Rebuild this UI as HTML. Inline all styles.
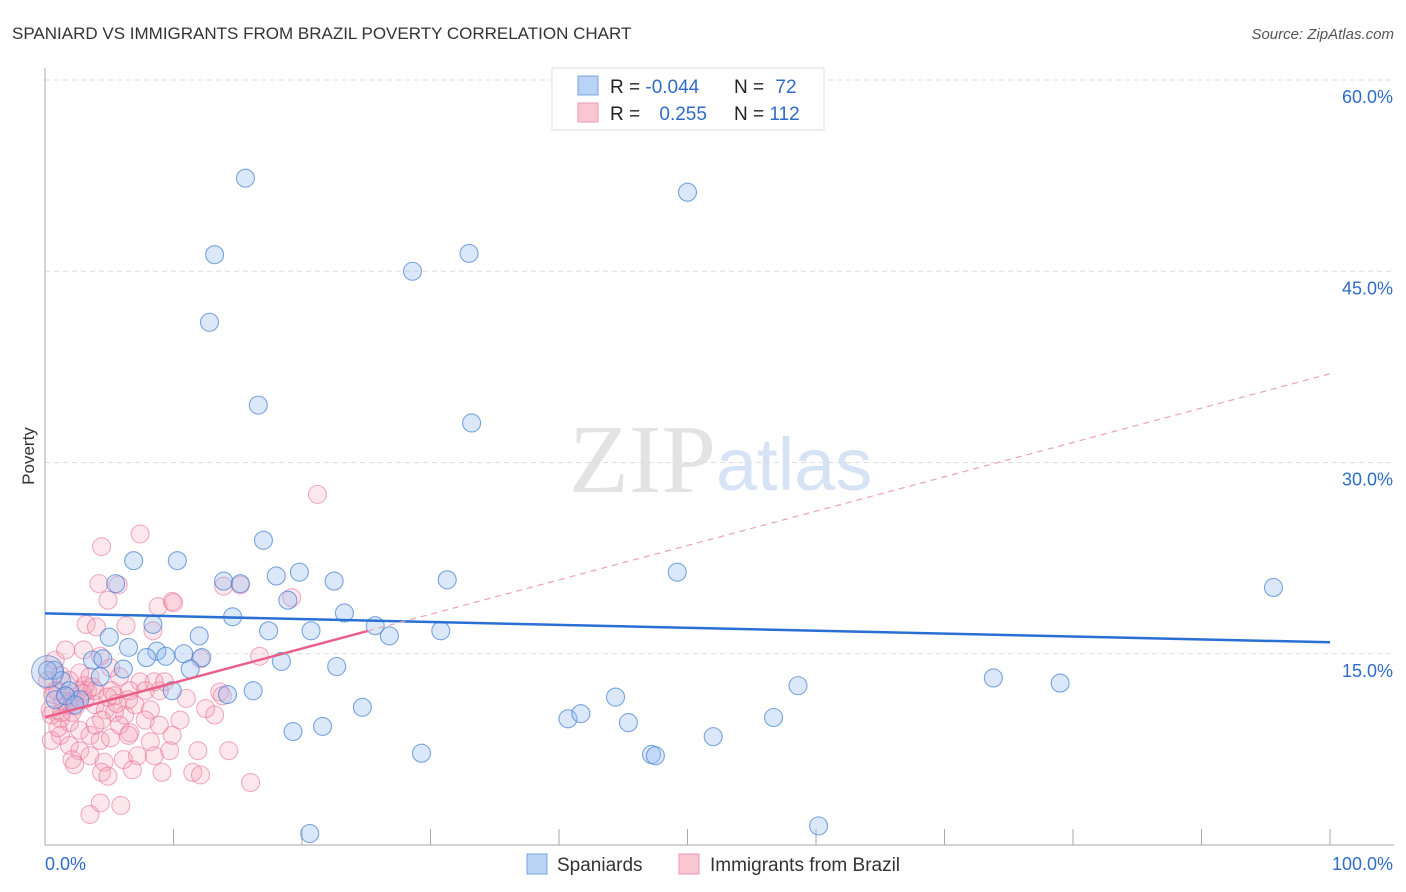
<!DOCTYPE html>
<html><head><meta charset="utf-8">
<style>
body{margin:0;background:#fff;font-family:"Liberation Sans",sans-serif;}
svg{display:block}
</style></head>
<body>
<svg id="chart" width="1406" height="892" viewBox="0 0 1406 892" xmlns="http://www.w3.org/2000/svg">
<text x="12" y="39" font-size="17" fill="#333">SPANIARD VS IMMIGRANTS FROM BRAZIL POVERTY CORRELATION CHART</text>
<text x="1394" y="39" font-size="15" fill="#555" font-style="italic" text-anchor="end">Source: ZipAtlas.com</text>
<text x="34" y="456" font-size="17" fill="#333" transform="rotate(-90 34 456)" text-anchor="middle">Poverty</text>
<text x="716" y="492" font-size="98" fill="#e3e3e3" text-anchor="end" font-family="Liberation Serif,serif">ZIP</text>
<text x="716" y="490" font-size="74" fill="#d6e3f5">atlas</text>
<g id="grid"></g>
<g id="axes"></g>
<g id="pink"></g>
<g id="blue"></g>
<g id="trends"></g>
<g>
<rect x="552" y="68" width="272" height="62" fill="#fff" stroke="#ddd"/>
<rect x="578" y="76" width="20" height="19" fill="#b9d3f5" stroke="#7aa6e0"/>
<rect x="578" y="103" width="20" height="19" fill="#f9c6d4" stroke="#ee9ab2"/>
<text x="610" y="93" font-size="19" fill="#222">R = <tspan fill="#2f6cc9">-0.044</tspan></text>
<text x="734" y="93" font-size="19" fill="#222">N = <tspan fill="#2f6cc9" dx="6">72</tspan></text>
<text x="610" y="120" font-size="19" fill="#222">R = <tspan fill="#2f6cc9" dx="14">0.255</tspan></text>
<text x="734" y="120" font-size="19" fill="#222">N = <tspan fill="#2f6cc9">112</tspan></text>
</g>
<g>
<rect x="527" y="854" width="20" height="20" fill="#b9d3f5" stroke="#7aa6e0"/>
<text x="557" y="871" font-size="19" fill="#333">Spaniards</text>
<rect x="679" y="854" width="20" height="20" fill="#f9c6d4" stroke="#ee9ab2"/>
<text x="710" y="871" font-size="19" fill="#333">Immigrants from Brazil</text>
</g>
</svg>
<script>
const yTicks=[15,30,45,60];
const yTickLabels=["15.0%","30.0%","45.0%","60.0%"];
const xTickLabels=["0.0%","100.0%"];
const blueX=[15.6,50.0,13.2,33.0,28.6,12.8,16.6,33.2,17.0,6.9,10.3,13.9,15.2,18.0,19.8,22.5,31.3,49.2,95.6,5.5,18.9,14.6,23.3,8.4,5.0,6.5,12.0,17.4,20.7,25.7,26.8,30.8,8.7,7.9,9.4,10.8,12.2,3.7,4.5,6.1,11.3,18.4,22.7,4.3,0.7,1.3,1.9,2.7,9.9,14.2,16.2,44.4,58.6,73.8,79.0,24.7,40.7,41.7,45.4,56.7,19.3,21.6,52.0,29.3,47.2,47.5,20.6,60.2,0.8,1.6,2.3,0.2];
const blueY=[52.3,51.2,46.3,46.4,45.0,41.0,34.5,33.1,23.9,22.3,22.3,20.7,20.5,21.1,21.4,20.7,20.8,21.4,20.2,20.5,19.2,17.9,18.2,17.3,16.3,15.5,16.4,16.8,16.8,17.2,16.4,16.8,15.2,14.7,14.8,15.0,14.7,14.5,14.6,13.8,13.8,14.4,14.0,13.2,13.7,12.9,12.1,11.4,12.1,11.8,12.1,11.6,12.5,13.1,12.7,10.8,9.9,10.3,9.6,10.0,8.9,9.3,8.5,7.2,7.1,7.0,0.9,1.5,11.4,11.7,11.0,13.7];
const pinkX=[21.2,7.4,4.4,4.2,5.7,4.9,8.8,9.9,8.4,3.2,4.0,6.3,19.2,15.2,3.0,4.3,12.1,16.7,1.2,1.9,2.7,3.5,5.1,5.8,7.4,7.8,8.9,11.0,13.6,0.8,1.6,2.3,3.1,3.9,4.7,5.4,6.2,7.0,8.2,10.5,12.5,13.2,0.4,1.2,1.9,2.7,3.5,4.3,5.1,5.8,6.6,8.2,9.7,11.9,14.3,1.2,1.9,2.7,3.5,4.6,6.1,7.2,8.5,2.1,2.3,4.4,4.9,6.8,9.1,11.5,12.1,16.0,4.3,5.9,3.5,0.5,1.8,1.0,2.6,0.2,0.8,1.6,3.3,6.6,7.8,8.9,5.2,6.5,9.9,13.8,0.5,2.1,3.9,5.4,1.3,3.1,4.9,1.0,3.9,8.5,9.3,10.0,13.9,6.5,4.4,1.9,2.9,0.6,1.4,2.4,3.7,5.6];
const pinkY=[27.5,24.4,23.4,20.5,20.4,19.2,18.7,19.1,16.8,17.3,17.1,17.2,19.4,20.4,15.3,14.8,14.6,14.8,13.3,12.9,13.5,13.2,13.9,13.2,12.8,12.1,12.1,11.5,12.0,12.1,11.7,11.4,11.4,11.0,10.6,10.4,10.2,11.0,10.6,9.8,10.7,10.2,10.6,9.9,9.6,9.0,8.6,8.2,8.4,9.4,8.8,8.1,7.4,7.4,7.4,8.6,7.8,7.4,7.0,6.5,6.7,7.0,7.0,6.7,6.3,5.7,5.4,5.9,5.7,5.7,5.5,4.9,3.3,3.1,2.4,10.2,11.0,12.1,12.1,12.9,14.5,15.3,12.1,12.1,9.8,9.4,12.1,8.6,8.6,11.7,8.2,10.4,12.1,11.7,10.4,12.5,11.6,9.2,9.4,12.8,12.8,19.0,20.3,11.4,9.8,11.2,11.9,11.8,11.3,10.9,12.4,11.1];
const blueTrend=[18.17,15.9];
const pinkTrend=[10.02,36.96];
const pinkSolidEnd=25.1;

const NS="http://www.w3.org/2000/svg";
const X0=45,X1=1330,Y0=845,Y60=80;
function sx(v){return X0+v*(X1-X0)/100;}
function sy(v){return Y0-v*(Y0-Y60)/60;}
function mk(tag,attrs,parent){const e=document.createElementNS(NS,tag);for(const k in attrs)e.setAttribute(k,attrs[k]);parent.appendChild(e);return e;}
const grid=document.getElementById('grid'),axes=document.getElementById('axes');
yTicks.forEach((t,i)=>{
  const l=mk('line',{x1:X0,x2:1394,y1:sy(t),y2:sy(t),stroke:'#ddd','stroke-dasharray':'5,4'},grid);
  
  
  const tx=mk('text',{x:1393,y:sy(t)+23,'font-size':18,fill:'#2f6cc9','text-anchor':'end'},axes);
  tx.textContent=yTickLabels[i];
  
  
});
const ya=mk('line',{x1:X0,x2:X0,y1:68,y2:Y0,stroke:'#aaa'},axes);


const xa=mk('line',{x1:X0,x2:1394,y1:Y0,y2:Y0,stroke:'#aaa'},axes);


for(let i=1;i<=10;i++){
  const tk=mk('line',{x1:sx(i*10),x2:sx(i*10),y1:Y0-16,y2:Y0,stroke:'#aaa'},axes);
  
  
}
const xl0=mk('text',{x:45,y:870,'font-size':18,fill:'#2f6cc9'},axes);xl0.textContent=xTickLabels[0];


const xl1=mk('text',{x:1393,y:870,'font-size':18,fill:'#2f6cc9','text-anchor':'end'},axes);xl1.textContent=xTickLabels[1];


function dots(xs,ys,g,fill,stroke,name){
  xs.forEach((x,i)=>{
    const c=mk('circle',{cx:sx(x),cy:sy(ys[i]),r:9,fill:fill,stroke:stroke,'stroke-width':1.1},g);
    
    
  });
}
dots(pinkX,pinkY,document.getElementById('pink'),'rgba(244,160,185,0.25)','rgba(232,110,150,0.55)','brazil-point');
dots(blueX,blueY,document.getElementById('blue'),'rgba(150,190,240,0.35)','rgba(70,130,210,0.7)','spaniard-point');
const big=mk('circle',{cx:sx(0.2),cy:sy(13.6),r:16,fill:'rgba(150,170,220,0.3)',stroke:'rgba(70,130,210,0.65)'},document.getElementById('blue'));


const tr=document.getElementById('trends');
const bl=mk('line',{x1:sx(0),y1:sy(blueTrend[0]),x2:sx(100),y2:sy(blueTrend[1]),stroke:'#2a6fd4','stroke-width':2.5},tr);


const pe=pinkTrend[0]+(pinkTrend[1]-pinkTrend[0])*pinkSolidEnd/100;
const pd=mk('line',{x1:sx(pinkSolidEnd),y1:sy(pe),x2:sx(100),y2:sy(pinkTrend[1]),stroke:'#eea0b8','stroke-width':1.2,'stroke-dasharray':'6,5'},tr);


const ps=mk('line',{x1:sx(0),y1:sy(pinkTrend[0]),x2:sx(pinkSolidEnd),y2:sy(pe),stroke:'#e8608a','stroke-width':2.5},tr);


</script>
</body></html>
